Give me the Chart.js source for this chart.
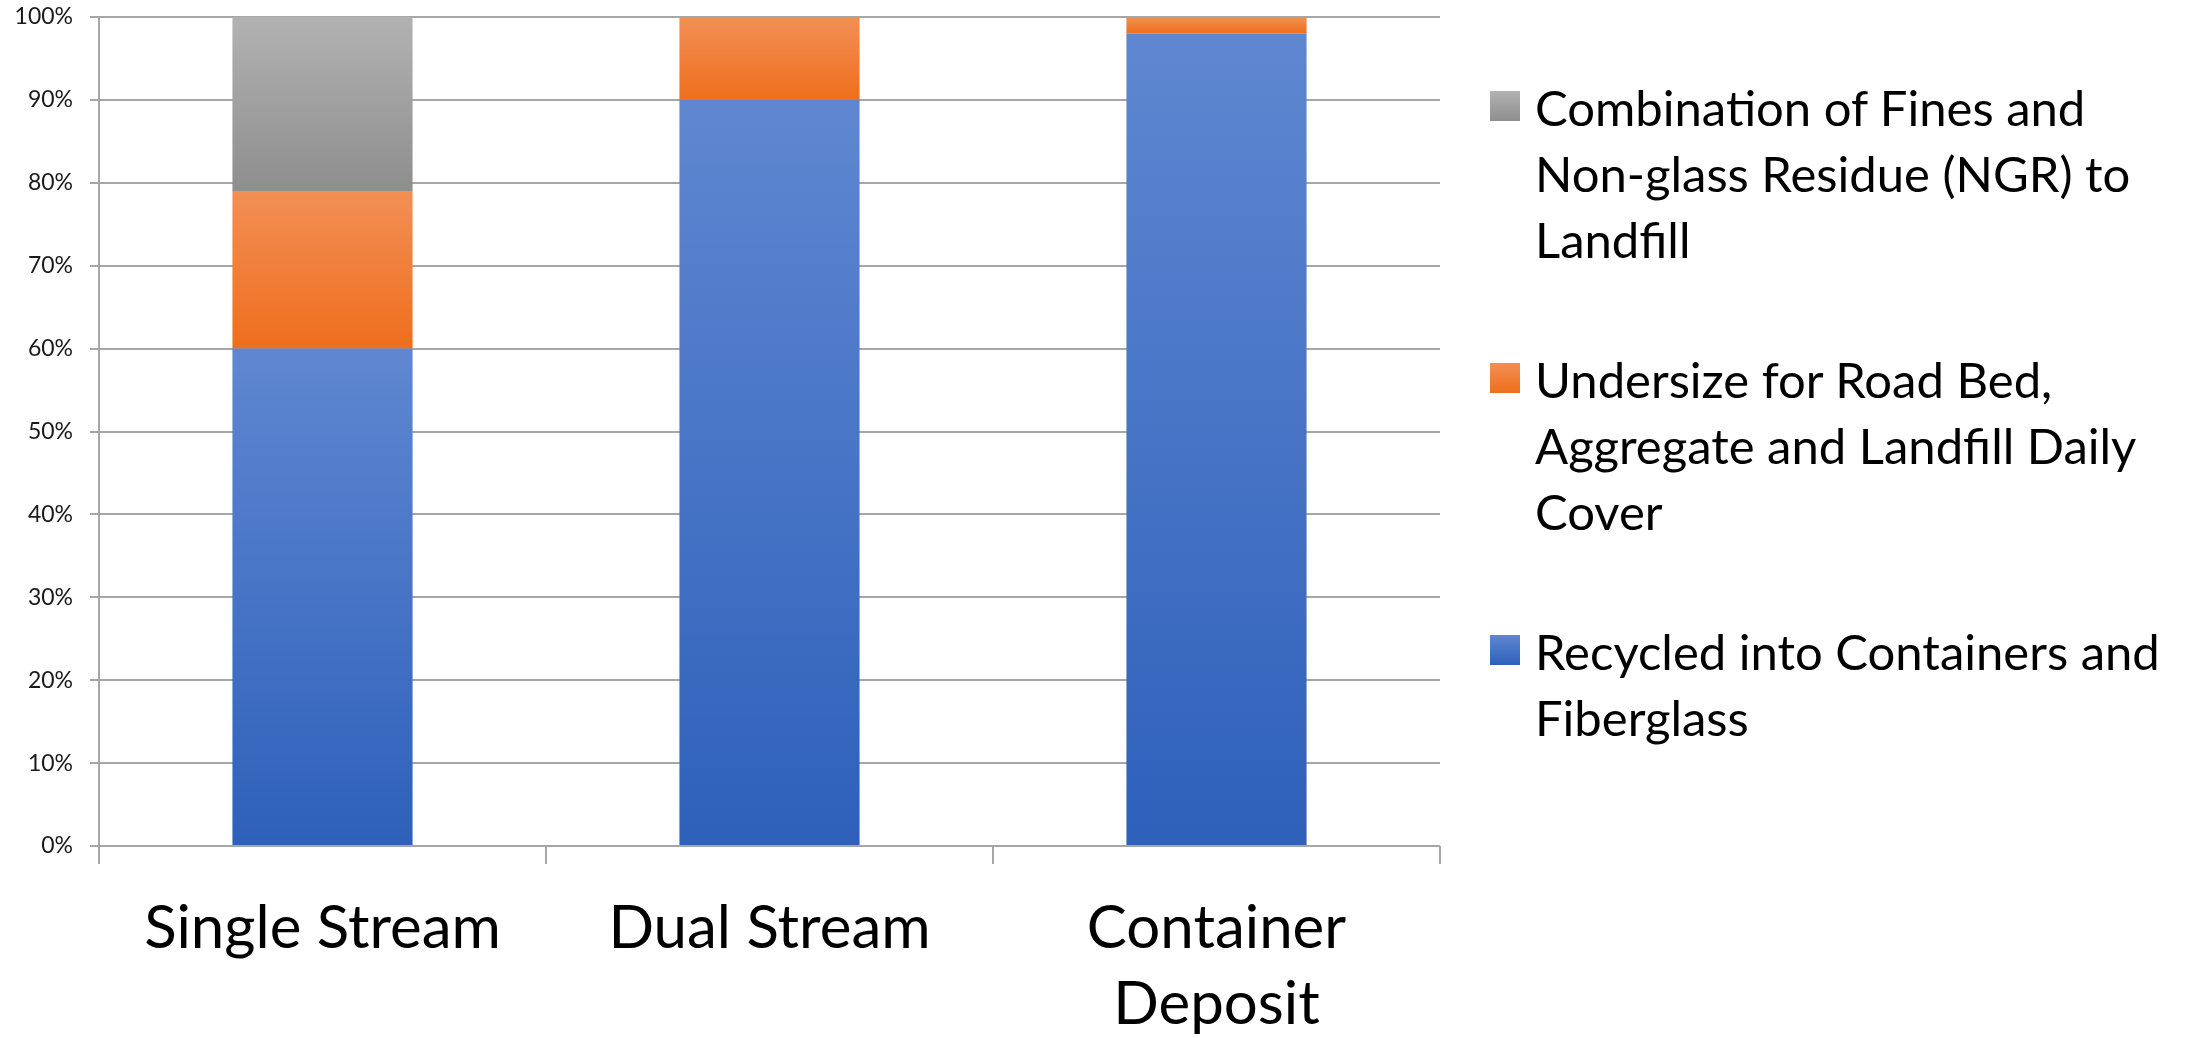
<!DOCTYPE html>
<html>
<head>
<meta charset="utf-8">
<script src="https://cdn.jsdelivr.net/npm/chart.js@4/dist/chart.umd.min.js"></script>
<style>
  html, body { margin: 0; padding: 0; background: #ffffff; }
  #wrap { position: relative; width: 2192px; height: 1038px; }
  #chart { position: absolute; left: 0; top: 0; }
  #legend { position: absolute; left: 1490px; top: 74px; font-family: Lato, sans-serif; color: #000; }
  .item { position: relative; padding-left: 45px; margin-bottom: 74px; font-size: 49px; line-height: 66px; white-space: nowrap; }
  .sw { position: absolute; left: 0; top: 17px; width: 30px; height: 30px; }
</style>
</head>
<body>
<div id="wrap">
  <canvas id="chart" width="2192" height="1038"></canvas>
  <div id="legend"></div>
</div>
<script>
// ---- data ----
const categories = ["Single Stream", "Dual Stream", ["Container", "Deposit"]];
const seriesNames = [
  "Recycled into Containers and Fiberglass",
  "Undersize for Road Bed, Aggregate and Landfill Daily Cover",
  "Combination of Fines and Non-glass Residue (NGR) to Landfill"
];
const legendLines = [
  ["Recycled into Containers and", "Fiberglass"],
  ["Undersize for Road Bed,", "Aggregate and Landfill Daily", "Cover"],
  ["Combination of Fines and", "Non-glass Residue (NGR) to", "Landfill"]
];
const recycled = [60, 90, 98];
const undersize = [19, 10, 2];
const residue = [21, 0, 0];
const yTicks = [0, 10, 20, 30, 40, 50, 60, 70, 80, 90, 100];
// gradient colours: [top, bottom]
const gradients = [
  ["#5F87D1", "#2E60BA"],
  ["#F38F55", "#EE6F1C"],
  ["#B2B2B2", "#8E8E8E"]
];
const seriesValues = [recycled, undersize, residue];

function segmentFill(ctx) {
  const di = ctx.datasetIndex;
  const g = gradients[di];
  if (ctx.type !== 'data' || !ctx.chart.scales || !ctx.chart.scales.y) return g[0];
  const i = ctx.dataIndex;
  let start = 0;
  for (let k = 0; k < di; k++) start += seriesValues[k][i];
  const end = start + seriesValues[di][i];
  const ys = ctx.chart.scales.y;
  const top = ys.getPixelForValue(end);
  const bot = ys.getPixelForValue(start);
  if (!isFinite(top) || !isFinite(bot) || top === bot) return g[0];
  const grad = ctx.chart.ctx.createLinearGradient(0, top, 0, bot);
  grad.addColorStop(0, g[0]);
  grad.addColorStop(1, g[1]);
  return grad;
}

const datasets = seriesValues.map((vals, i) => ({
  label: seriesNames[i],
  data: vals,
  backgroundColor: segmentFill,
  borderWidth: 0,
  categoryPercentage: 1.0,
  barPercentage: 0.403
}));

const FONT = "Lato, sans-serif";

const chart = new Chart(document.getElementById('chart'), {
  type: 'bar',
  data: { labels: categories, datasets },
  options: {
    responsive: false,
    animation: false,
    devicePixelRatio: 1,
    layout: { padding: { top: 17, right: 752, bottom: 0, left: 0 } },
    plugins: {
      legend: { display: false },
      tooltip: { enabled: false }
    },
    scales: {
      x: {
        stacked: true,
        offset: true,
        grid: {
          offset: true,
          drawOnChartArea: false,
          drawTicks: true,
          tickLength: 18,
          color: '#A6A6A6',
          lineWidth: 2
        },
        border: { display: false },
        ticks: {
          color: '#000000',
          font: { family: FONT, size: 60, lineHeight: '76px' },
          padding: 27,
          maxRotation: 0,
          autoSkip: false
        },
        afterFit: (s) => { s.height = 192; s.paddingLeft = 0; s.paddingRight = 0; }
      },
      y: {
        stacked: true,
        min: 0,
        max: 100,
        afterBuildTicks: (s) => { s.ticks = yTicks.map(v => ({ value: v })); },
        grid: {
          color: '#A6A6A6',
          lineWidth: 2,
          tickLength: 9,
          drawTicks: true
        },
        border: { display: true, color: '#A6A6A6', width: 2 },
        ticks: {
          color: '#1a1a1a',
          font: { family: FONT, size: 23 },
          padding: 17,
          callback: (v) => v + '%'
        },
        afterFit: (s) => { s.width = 99; s.paddingTop = 0; s.paddingBottom = 0; }
      }
    }
  }
});

// HTML legend, reversed order like the stacked chart
const legendEl = document.getElementById('legend');
for (let i = chart.data.datasets.length - 1; i >= 0; i--) {
  const item = document.createElement('div');
  item.className = 'item';
  const sw = document.createElement('span');
  sw.className = 'sw';
  sw.style.background = 'linear-gradient(to bottom, ' + gradients[i][0] + ', ' + gradients[i][1] + ')';
  item.appendChild(sw);
  legendLines[i].forEach((ln, j) => {
    if (j > 0) item.appendChild(document.createElement('br'));
    item.appendChild(document.createTextNode(ln));
  });
  legendEl.appendChild(item);
}
</script>
</body>
</html>
